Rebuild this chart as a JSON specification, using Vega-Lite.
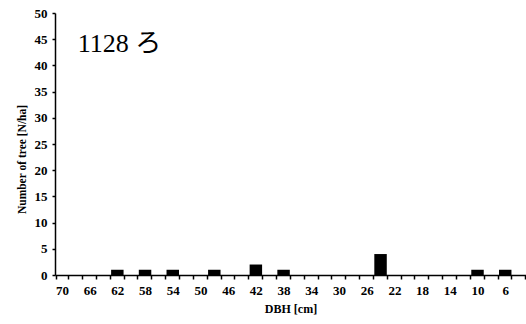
{
  "$schema": "https://vega.github.io/schema/vega-lite/v6.json",
  "width": 471,
  "height": 262,
  "autosize": {"type": "none"},
  "padding": {"left": 55, "top": 13, "right": 0, "bottom": 49},
  "background": "white",
  "config": {
    "view": {"stroke": null},
    "font": "Liberation Serif"
  },
  "data": {
    "values": [
      {"dbh": 70, "n": 0}, {"dbh": 68, "n": 0}, {"dbh": 66, "n": 0}, {"dbh": 64, "n": 0},
      {"dbh": 62, "n": 1}, {"dbh": 60, "n": 0}, {"dbh": 58, "n": 1}, {"dbh": 56, "n": 0},
      {"dbh": 54, "n": 1}, {"dbh": 52, "n": 0}, {"dbh": 50, "n": 0}, {"dbh": 48, "n": 1},
      {"dbh": 46, "n": 0}, {"dbh": 44, "n": 0}, {"dbh": 42, "n": 2}, {"dbh": 40, "n": 0},
      {"dbh": 38, "n": 1}, {"dbh": 36, "n": 0}, {"dbh": 34, "n": 0}, {"dbh": 32, "n": 0},
      {"dbh": 30, "n": 0}, {"dbh": 28, "n": 0}, {"dbh": 26, "n": 0}, {"dbh": 24, "n": 4},
      {"dbh": 22, "n": 0}, {"dbh": 20, "n": 0}, {"dbh": 18, "n": 0}, {"dbh": 16, "n": 0},
      {"dbh": 14, "n": 0}, {"dbh": 12, "n": 0}, {"dbh": 10, "n": 1}, {"dbh": 8, "n": 0},
      {"dbh": 6, "n": 1}, {"dbh": 4, "n": 0}
    ]
  },
  "encoding": {
    "x": {
      "field": "dbh",
      "type": "ordinal",
      "sort": "descending",
      "scale": {"paddingInner": 0.1, "paddingOuter": 0.05},
      "axis": {
        "title": "DBH [cm]",
        "titleFont": "Liberation Serif",
        "titleFontWeight": "bold",
        "titleFontSize": 12,
        "titleColor": "black",
        "titlePadding": 6,
        "labelAngle": 0,
        "labelFont": "Liberation Serif",
        "labelFontWeight": "bold",
        "labelFontSize": 13,
        "labelColor": "black",
        "labelPadding": 5,
        "labelExpr": "datum.value % 4 == 2 ? datum.label : ''",
        "tickBand": "extent",
        "tickSize": 4,
        "tickColor": "black",
        "tickWidth": 1.5,
        "domainColor": "black",
        "domainWidth": 1.5,
        "grid": false
      }
    },
    "y": {
      "field": "n",
      "type": "quantitative",
      "scale": {"domain": [0, 50], "nice": false},
      "axis": {
        "title": "Number of tree [N/ha]",
        "titleFont": "Liberation Serif",
        "titleFontWeight": "bold",
        "titleFontSize": 11.5,
        "titleColor": "black",
        "titleY": 146,
        "titlePadding": 7,
        "values": [0, 5, 10, 15, 20, 25, 30, 35, 40, 45, 50],
        "labelOverlap": false,
        "labelFont": "Liberation Serif",
        "labelFontWeight": "bold",
        "labelFontSize": 13,
        "labelColor": "black",
        "labelPadding": 5,
        "tickSize": 3,
        "tickColor": "black",
        "tickWidth": 1.5,
        "domainColor": "black",
        "domainWidth": 1.5,
        "grid": false
      }
    }
  },
  "layer": [
    {
      "mark": {"type": "bar", "color": "black"}
    },
    {
      "data": {"values": [{"dbh": 68, "n": 44, "label": "1128 ろ"}]},
      "mark": {
        "type": "text",
        "align": "left",
        "baseline": "middle",
        "font": "Liberation Serif, Noto Sans CJK JP",
        "fontSize": 26,
        "color": "black",
        "dx": 2
      },
      "encoding": {
        "text": {"field": "label"}
      }
    }
  ]
}
